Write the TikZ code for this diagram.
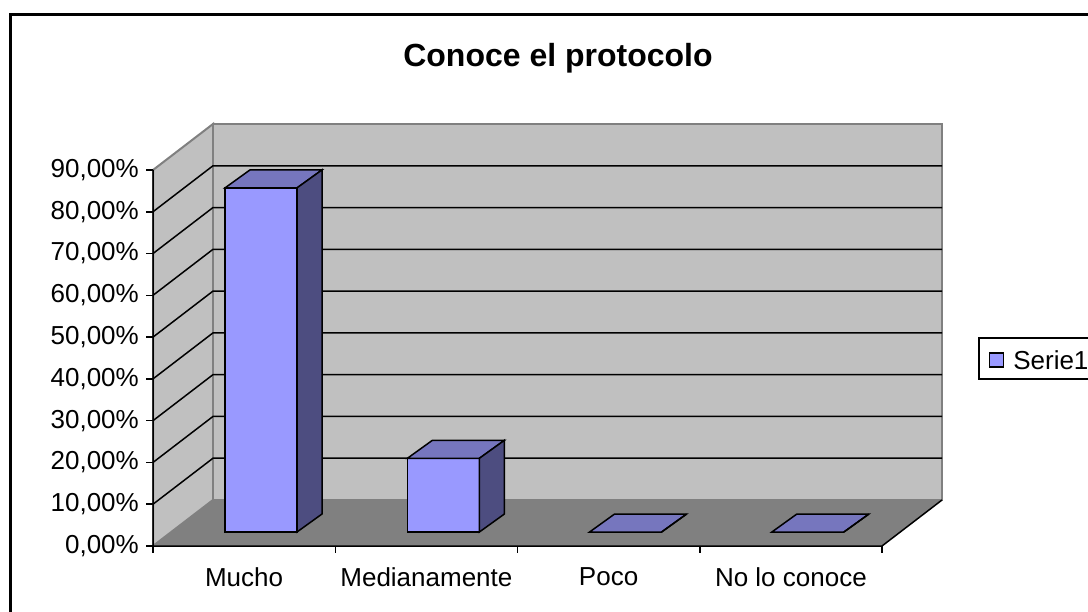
\documentclass[tikz,border=0pt]{standalone}
\usepackage{fontspec}
\setmainfont{Liberation Sans}
\usetikzlibrary{positioning}

\definecolor{barfront}{RGB}{153,153,255}
\definecolor{bartop}{RGB}{118,118,190}
\definecolor{barside}{RGB}{77,77,128}
\definecolor{wallgray}{RGB}{192,192,192}
\definecolor{floorgray}{RGB}{128,128,128}

% one 3D column: #1 = left x of front face, #2 = height
\newcommand{\drawbar}[2]{%
    \pgfmathsetmacro{\xr}{#1+72}
    \pgfmathsetmacro{\yt}{532-#2}
    \draw[face, fill=barfront] (#1,532) rectangle (\xr,\yt);
    \draw[face, fill=bartop] (#1,\yt) -- (\xr,\yt) -- ++(25,-18) -- ++(-72,0) -- cycle;
    \draw[face, fill=barside] (\xr,532) -- ++(25,-18) -- (\xr+25,\yt-18) -- (\xr,\yt) -- cycle;
}

\begin{document}
\begin{tikzpicture}[
            x = 1pt, y = -1pt, % screen coordinates, y runs down
            font = \fontsize{26}{31}\selectfont,
            line join = miter
        ]

        \tikzstyle{wall}=[
            fill = wallgray,
            draw = floorgray,
            line width = 2pt
        ]
        \tikzstyle{gridline}=[black, line width = 1.5pt]
        \tikzstyle{axis}=[black, line width = 1.5pt]
        \tikzstyle{face}=[draw = black, line width = 1.5pt]
        \tikzstyle{ticklabel}=[anchor = east, inner sep = 0pt]
        \tikzstyle{catlabel}=[inner sep = 0pt]

        \clip (0,0) rectangle (1088,612);
        \draw[line width = 3pt] (10,15) rectangle (1130,650);

        \node[font = \fontsize{32}{38}\selectfont\bfseries] (title) at (558,58) {Conoce el protocolo};

	% floor and walls
        \fill[floorgray] (153,546) -- (882,546) -- (942,500) -- (213,500) -- cycle;
        \draw[wall] (153,546) -- (213,500) -- (213,124) -- (153,170) -- cycle;
        \draw[wall] (213,500) -- (942,500) -- (942,124) -- (213,124) -- cycle;
        \foreach \i in {1,...,8}
            \draw[gridline] (153,{546-41.78*\i}) -- (213,{500-41.78*\i}) -- (942,{500-41.78*\i});

	% axes
        \draw[axis] (153,170) -- (153,546) -- (882,546) -- (942,500);
        \foreach \i/\t in {0/0,1/10,2/20,3/30,4/40,5/50,6/60,7/70,8/80,9/90} {
            \draw[axis] (146,{546-41.78*\i}) -- (153,{546-41.78*\i});
            \node[ticklabel] (tick\i) at (139,{546-41.78*\i}) {\t,00\%};
        }
        \foreach \x in {153,335.25,517.5,699.75,882}
            \draw[axis] (\x,546) -- (\x,553);

	% columns
        \drawbar{225}{344.1}
        \drawbar{407.4}{73.7}
        \drawbar{589.6}{0}
        \drawbar{771.9}{0}

        \node[catlabel] (mucho) at (244.1,577) {Mucho};
        \node[catlabel] (medianamente) at (426.4,577) {Medianamente};
        \node[catlabel] (poco) at (608.6,577) {Poco};
        \node[catlabel] (noconoce) at (790.9,577) {No lo conoce};

	% legend
        \draw[line width = 1.5pt, fill = white] (979,338) rectangle (1130,379);
        \node[draw, fill = barfront, line width = 1.2pt, minimum size = 14pt, inner sep = 0pt] (key) at (996.5,360) {};
        \node[anchor = west, inner sep = 0pt] (serie) [right = 9pt of key] {Serie1};
    \end{tikzpicture}
\end{document}
